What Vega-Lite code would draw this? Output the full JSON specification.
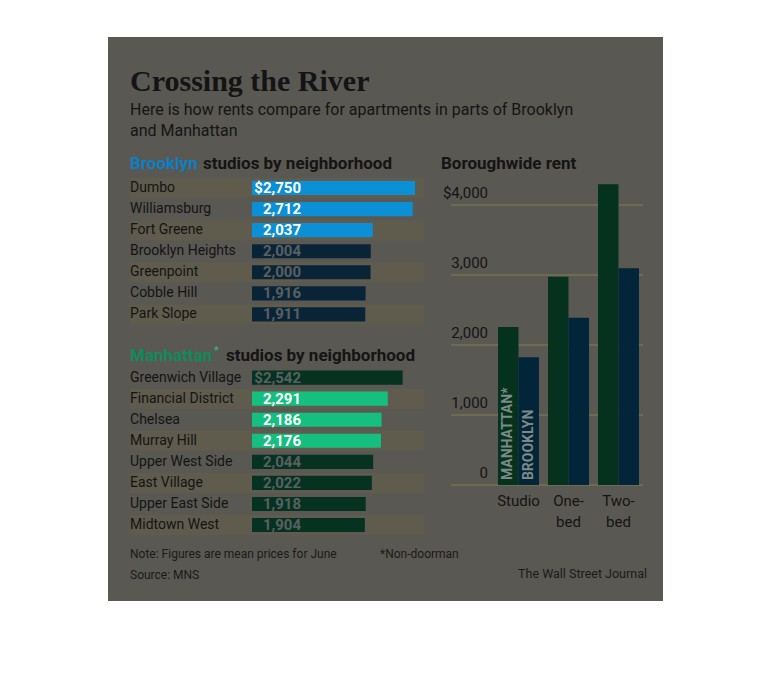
{
"$schema":"https://vega.github.io/schema/vega-lite/v6.json",
"width":555,"height":564,
"autosize":{"type":"none"},
"padding":{"left":108,"top":37,"right":107,"bottom":95},
"background":"#ffffff",
"config":{"view":{"fill":"#5a5853","stroke":null},"text":{"font":"Roboto","color":"#141414"}},
"resolve":{"scale":{"x":"independent","y":"independent","xOffset":"independent","color":"independent"}},
"datasets":{
 "studios":[
  {"borough":"Brooklyn","name":"Dumbo","rent":2750,"label":"$2,750"},
  {"borough":"Brooklyn","name":"Williamsburg","rent":2712,"label":"2,712"},
  {"borough":"Brooklyn","name":"Fort Greene","rent":2037,"label":"2,037"},
  {"borough":"Brooklyn","name":"Brooklyn Heights","rent":2004,"label":"2,004"},
  {"borough":"Brooklyn","name":"Greenpoint","rent":2000,"label":"2,000"},
  {"borough":"Brooklyn","name":"Cobble Hill","rent":1916,"label":"1,916"},
  {"borough":"Brooklyn","name":"Park Slope","rent":1911,"label":"1,911"},
  {"borough":"Manhattan","name":"Greenwich Village","rent":2542,"label":"$2,542"},
  {"borough":"Manhattan","name":"Financial District","rent":2291,"label":"2,291"},
  {"borough":"Manhattan","name":"Chelsea","rent":2186,"label":"2,186"},
  {"borough":"Manhattan","name":"Murray Hill","rent":2176,"label":"2,176"},
  {"borough":"Manhattan","name":"Upper West Side","rent":2044,"label":"2,044"},
  {"borough":"Manhattan","name":"East Village","rent":2022,"label":"2,022"},
  {"borough":"Manhattan","name":"Upper East Side","rent":1918,"label":"1,918"},
  {"borough":"Manhattan","name":"Midtown West","rent":1904,"label":"1,904"}
 ],
 "boroughwide":[
  {"type":"Studio","borough":"Manhattan","rent":2257},
  {"type":"Studio","borough":"Brooklyn","rent":1824},
  {"type":"One-bed","borough":"Manhattan","rent":2976},
  {"type":"One-bed","borough":"Brooklyn","rent":2390},
  {"type":"Two-bed","borough":"Manhattan","rent":4296},
  {"type":"Two-bed","borough":"Brooklyn","rent":3096}
 ],
 "ticks":[
  {"value":0,"label":"0"},{"value":1000,"label":"1,000"},{"value":2000,"label":"2,000"},{"value":3000,"label":"3,000"},{"value":4000,"label":"$4,000"}
 ]
},
"layer":[
 {
  "data":{"name":"studios"},
  "transform":[{"filter":{"field":"name","oneOf":["Dumbo","Fort Greene","Greenpoint","Park Slope","Financial District","Murray Hill","East Village","Midtown West"]}}],
  "mark":{"type":"bar","height":{"band":0.95},"color":"#5f5c4d"},
  "encoding":{
   "x":{"datum":-2058,"type":"quantitative","axis":null,"scale":{"type":"linear","domain":[0,2750],"range":[144,307],"zero":false,"nice":false}},
   "x2":{"datum":2902},
   "y":{"field":"name","type":"nominal","axis":null,"scale":{"type":"band","domain":["title","sub1","sub2","blank","hdrB","Dumbo","Williamsburg","Fort Greene","Brooklyn Heights","Greenpoint","Cobble Hill","Park Slope","gap","hdrM","Greenwich Village","Financial District","Chelsea","Murray Hill","Upper West Side","East Village","Upper East Side","Midtown West","note","source"],"range":[35.23,540.67],"paddingInner":0,"paddingOuter":0}}
  }
 },
 {
  "data":{"name":"studios"},
  "mark":{"type":"bar","height":{"band":0.67}},
  "encoding":{
   "x":{"field":"rent","type":"quantitative","axis":null,"scale":{"type":"linear","domain":[0,2750],"range":[144,307],"zero":false,"nice":false}},
   "y":{"field":"name","type":"nominal","axis":null,"scale":{"type":"band","domain":["title","sub1","sub2","blank","hdrB","Dumbo","Williamsburg","Fort Greene","Brooklyn Heights","Greenpoint","Cobble Hill","Park Slope","gap","hdrM","Greenwich Village","Financial District","Chelsea","Murray Hill","Upper West Side","East Village","Upper East Side","Midtown West","note","source"],"range":[35.23,540.67],"paddingInner":0,"paddingOuter":0}},
   "color":{"condition":[
     {"test":"indexof(['Dumbo','Williamsburg','Fort Greene'], datum.name) >= 0","value":"#0b8fd5"},
     {"test":"indexof(['Financial District','Chelsea','Murray Hill'], datum.name) >= 0","value":"#14bf80"},
     {"test":"datum.borough === 'Brooklyn'","value":"#0a2437"}
    ],"value":"#053221"}
  }
 },
 {
  "data":{"name":"studios"},
  "mark":{"type":"text","align":"left","baseline":"middle","fontSize":14},
  "encoding":{
   "x":{"datum":-2058,"type":"quantitative","axis":null,"scale":{"type":"linear","domain":[0,2750],"range":[144,307],"zero":false,"nice":false}},
   "y":{"field":"name","type":"nominal","axis":null,"scale":{"type":"band","domain":["title","sub1","sub2","blank","hdrB","Dumbo","Williamsburg","Fort Greene","Brooklyn Heights","Greenpoint","Cobble Hill","Park Slope","gap","hdrM","Greenwich Village","Financial District","Chelsea","Murray Hill","Upper West Side","East Village","Upper East Side","Midtown West","note","source"],"range":[35.23,540.67],"paddingInner":0,"paddingOuter":0}},
   "text":{"field":"name"}
  }
 },
 {
  "data":{"name":"studios"},
  "mark":{"type":"text","align":"right","baseline":"middle","fontSize":15,"fontWeight":"bold"},
  "encoding":{
   "x":{"datum":827,"type":"quantitative","axis":null,"scale":{"type":"linear","domain":[0,2750],"range":[144,307],"zero":false,"nice":false}},
   "y":{"field":"name","type":"nominal","axis":null,"scale":{"type":"band","domain":["title","sub1","sub2","blank","hdrB","Dumbo","Williamsburg","Fort Greene","Brooklyn Heights","Greenpoint","Cobble Hill","Park Slope","gap","hdrM","Greenwich Village","Financial District","Chelsea","Murray Hill","Upper West Side","East Village","Upper East Side","Midtown West","note","source"],"range":[35.23,540.67],"paddingInner":0,"paddingOuter":0}},
   "text":{"field":"label"},
   "color":{"condition":{"test":"indexof(['Dumbo','Williamsburg','Fort Greene','Financial District','Chelsea','Murray Hill'], datum.name) >= 0","value":"#ffffff"},"value":"#5a6062"}
  }
 },
 {
  "data":{"values":[{"row":"title","text":"Crossing the River"}]},
  "mark":{"type":"text","align":"left","baseline":"middle","font":"Liberation Serif","fontSize":30,"fontWeight":"bold","dy":-1},
  "encoding":{
   "x":{"datum":-2058,"type":"quantitative","axis":null,"scale":{"type":"linear","domain":[0,2750],"range":[144,307],"zero":false,"nice":false}},
   "y":{"field":"row","type":"nominal","axis":null,"scale":{"type":"band","domain":["title","sub1","sub2","blank","hdrB","Dumbo","Williamsburg","Fort Greene","Brooklyn Heights","Greenpoint","Cobble Hill","Park Slope","gap","hdrM","Greenwich Village","Financial District","Chelsea","Murray Hill","Upper West Side","East Village","Upper East Side","Midtown West","note","source"],"range":[35.23,540.67],"paddingInner":0,"paddingOuter":0}},
   "text":{"field":"text"}
  }
 },
 {
  "data":{"values":[{"row":"sub1","text":"Here is how rents compare for apartments in parts of Brooklyn"},{"row":"sub2","text":"and Manhattan"}]},
  "mark":{"type":"text","align":"left","baseline":"middle","fontSize":16,"dy":6.5},
  "encoding":{
   "x":{"datum":-2058,"type":"quantitative","axis":null,"scale":{"type":"linear","domain":[0,2750],"range":[144,307],"zero":false,"nice":false}},
   "y":{"field":"row","type":"nominal","axis":null,"scale":{"type":"band","domain":["title","sub1","sub2","blank","hdrB","Dumbo","Williamsburg","Fort Greene","Brooklyn Heights","Greenpoint","Cobble Hill","Park Slope","gap","hdrM","Greenwich Village","Financial District","Chelsea","Murray Hill","Upper West Side","East Village","Upper East Side","Midtown West","note","source"],"range":[35.23,540.67],"paddingInner":0,"paddingOuter":0}},
   "text":{"field":"text"}
  }
 },
 {
  "data":{"values":[{"row":"hdrB","text":"Brooklyn"}]},
  "mark":{"type":"text","align":"left","baseline":"middle","fontSize":17,"fontWeight":"bold","color":"#0b7fc4","dy":-3},
  "encoding":{
   "x":{"datum":-2058,"type":"quantitative","axis":null,"scale":{"type":"linear","domain":[0,2750],"range":[144,307],"zero":false,"nice":false}},
   "y":{"field":"row","type":"nominal","axis":null,"scale":{"type":"band","domain":["title","sub1","sub2","blank","hdrB","Dumbo","Williamsburg","Fort Greene","Brooklyn Heights","Greenpoint","Cobble Hill","Park Slope","gap","hdrM","Greenwich Village","Financial District","Chelsea","Murray Hill","Upper West Side","East Village","Upper East Side","Midtown West","note","source"],"range":[35.23,540.67],"paddingInner":0,"paddingOuter":0}},
   "text":{"field":"text"}
  }
 },
 {
  "data":{"values":[{"row":"hdrB","text":"studios by neighborhood"}]},
  "mark":{"type":"text","align":"left","baseline":"middle","fontSize":17,"fontWeight":"bold","dy":-3},
  "encoding":{
   "x":{"datum":-827,"type":"quantitative","axis":null,"scale":{"type":"linear","domain":[0,2750],"range":[144,307],"zero":false,"nice":false}},
   "y":{"field":"row","type":"nominal","axis":null,"scale":{"type":"band","domain":["title","sub1","sub2","blank","hdrB","Dumbo","Williamsburg","Fort Greene","Brooklyn Heights","Greenpoint","Cobble Hill","Park Slope","gap","hdrM","Greenwich Village","Financial District","Chelsea","Murray Hill","Upper West Side","East Village","Upper East Side","Midtown West","note","source"],"range":[35.23,540.67],"paddingInner":0,"paddingOuter":0}},
   "text":{"field":"text"}
  }
 },
 {
  "data":{"values":[{"row":"hdrB","text":"Boroughwide rent"}]},
  "mark":{"type":"text","align":"left","baseline":"middle","fontSize":17,"fontWeight":"bold","dy":-3},
  "encoding":{
   "x":{"datum":3189,"type":"quantitative","axis":null,"scale":{"type":"linear","domain":[0,2750],"range":[144,307],"zero":false,"nice":false}},
   "y":{"field":"row","type":"nominal","axis":null,"scale":{"type":"band","domain":["title","sub1","sub2","blank","hdrB","Dumbo","Williamsburg","Fort Greene","Brooklyn Heights","Greenpoint","Cobble Hill","Park Slope","gap","hdrM","Greenwich Village","Financial District","Chelsea","Murray Hill","Upper West Side","East Village","Upper East Side","Midtown West","note","source"],"range":[35.23,540.67],"paddingInner":0,"paddingOuter":0}},
   "text":{"field":"text"}
  }
 },
 {
  "data":{"values":[{"row":"hdrM","text":"Manhattan"}]},
  "mark":{"type":"text","align":"left","baseline":"middle","fontSize":17,"fontWeight":"bold","color":"#0e8c57","dy":-1},
  "encoding":{
   "x":{"datum":-2058,"type":"quantitative","axis":null,"scale":{"type":"linear","domain":[0,2750],"range":[144,307],"zero":false,"nice":false}},
   "y":{"field":"row","type":"nominal","axis":null,"scale":{"type":"band","domain":["title","sub1","sub2","blank","hdrB","Dumbo","Williamsburg","Fort Greene","Brooklyn Heights","Greenpoint","Cobble Hill","Park Slope","gap","hdrM","Greenwich Village","Financial District","Chelsea","Murray Hill","Upper West Side","East Village","Upper East Side","Midtown West","note","source"],"range":[35.23,540.67],"paddingInner":0,"paddingOuter":0}},
   "text":{"field":"text"}
  }
 },
 {
  "data":{"values":[{"row":"hdrM","text":"*"}]},
  "mark":{"type":"text","align":"left","baseline":"middle","fontSize":11,"color":"#2fbf85","dy":-6},
  "encoding":{
   "x":{"datum":-641,"type":"quantitative","axis":null,"scale":{"type":"linear","domain":[0,2750],"range":[144,307],"zero":false,"nice":false}},
   "y":{"field":"row","type":"nominal","axis":null,"scale":{"type":"band","domain":["title","sub1","sub2","blank","hdrB","Dumbo","Williamsburg","Fort Greene","Brooklyn Heights","Greenpoint","Cobble Hill","Park Slope","gap","hdrM","Greenwich Village","Financial District","Chelsea","Murray Hill","Upper West Side","East Village","Upper East Side","Midtown West","note","source"],"range":[35.23,540.67],"paddingInner":0,"paddingOuter":0}},
   "text":{"field":"text"}
  }
 },
 {
  "data":{"values":[{"row":"hdrM","text":"studios by neighborhood"}]},
  "mark":{"type":"text","align":"left","baseline":"middle","fontSize":17,"fontWeight":"bold","dy":-1},
  "encoding":{
   "x":{"datum":-439,"type":"quantitative","axis":null,"scale":{"type":"linear","domain":[0,2750],"range":[144,307],"zero":false,"nice":false}},
   "y":{"field":"row","type":"nominal","axis":null,"scale":{"type":"band","domain":["title","sub1","sub2","blank","hdrB","Dumbo","Williamsburg","Fort Greene","Brooklyn Heights","Greenpoint","Cobble Hill","Park Slope","gap","hdrM","Greenwich Village","Financial District","Chelsea","Murray Hill","Upper West Side","East Village","Upper East Side","Midtown West","note","source"],"range":[35.23,540.67],"paddingInner":0,"paddingOuter":0}},
   "text":{"field":"text"}
  }
 },
 {
  "data":{"values":[{"row":"note","text":"Note: Figures are mean prices for June"},{"row":"source","text":"Source: MNS"}]},
  "mark":{"type":"text","align":"left","baseline":"middle","fontSize":12,"color":"#1a1a1a","dy":7.5},
  "encoding":{
   "x":{"datum":-2058,"type":"quantitative","axis":null,"scale":{"type":"linear","domain":[0,2750],"range":[144,307],"zero":false,"nice":false}},
   "y":{"field":"row","type":"nominal","axis":null,"scale":{"type":"band","domain":["title","sub1","sub2","blank","hdrB","Dumbo","Williamsburg","Fort Greene","Brooklyn Heights","Greenpoint","Cobble Hill","Park Slope","gap","hdrM","Greenwich Village","Financial District","Chelsea","Murray Hill","Upper West Side","East Village","Upper East Side","Midtown West","note","source"],"range":[35.23,540.67],"paddingInner":0,"paddingOuter":0}},
   "text":{"field":"text"}
  }
 },
 {
  "data":{"values":[{"row":"note","text":"*Non-doorman"}]},
  "mark":{"type":"text","align":"left","baseline":"middle","fontSize":12,"color":"#1a1a1a","dy":7.5},
  "encoding":{
   "x":{"datum":2160,"type":"quantitative","axis":null,"scale":{"type":"linear","domain":[0,2750],"range":[144,307],"zero":false,"nice":false}},
   "y":{"field":"row","type":"nominal","axis":null,"scale":{"type":"band","domain":["title","sub1","sub2","blank","hdrB","Dumbo","Williamsburg","Fort Greene","Brooklyn Heights","Greenpoint","Cobble Hill","Park Slope","gap","hdrM","Greenwich Village","Financial District","Chelsea","Murray Hill","Upper West Side","East Village","Upper East Side","Midtown West","note","source"],"range":[35.23,540.67],"paddingInner":0,"paddingOuter":0}},
   "text":{"field":"text"}
  }
 },
 {
  "data":{"values":[{"row":"source","text":"The Wall Street Journal"}]},
  "mark":{"type":"text","align":"right","baseline":"middle","fontSize":12.5,"color":"#1a1a1a","dy":7},
  "encoding":{
   "x":{"datum":6664,"type":"quantitative","axis":null,"scale":{"type":"linear","domain":[0,2750],"range":[144,307],"zero":false,"nice":false}},
   "y":{"field":"row","type":"nominal","axis":null,"scale":{"type":"band","domain":["title","sub1","sub2","blank","hdrB","Dumbo","Williamsburg","Fort Greene","Brooklyn Heights","Greenpoint","Cobble Hill","Park Slope","gap","hdrM","Greenwich Village","Financial District","Chelsea","Murray Hill","Upper West Side","East Village","Upper East Side","Midtown West","note","source"],"range":[35.23,540.67],"paddingInner":0,"paddingOuter":0}},
   "text":{"field":"text"}
  }
 },
 {
  "data":{"name":"ticks"},
  "mark":{"type":"rule","color":"#6f6b4f","strokeWidth":2},
  "encoding":{
   "x":{"datum":3357,"type":"quantitative","axis":null,"scale":{"type":"linear","domain":[0,2750],"range":[144,307],"zero":false,"nice":false}},
   "x2":{"datum":6597},
   "y":{"field":"value","type":"quantitative","axis":null,"scale":{"type":"linear","domain":[0,4000],"range":[448,168],"zero":false,"nice":false}}
  }
 },
 {
  "data":{"name":"ticks"},
  "mark":{"type":"text","align":"right","baseline":"middle","fontSize":15,"dy":-12},
  "encoding":{
   "x":{"datum":3982,"type":"quantitative","axis":null,"scale":{"type":"linear","domain":[0,2750],"range":[144,307],"zero":false,"nice":false}},
   "y":{"field":"value","type":"quantitative","axis":null,"scale":{"type":"linear","domain":[0,4000],"range":[448,168],"zero":false,"nice":false}},
   "text":{"field":"label"}
  }
 },
 {
  "data":{"name":"boroughwide"},
  "mark":{"type":"bar"},
  "encoding":{
   "x":{"field":"type","type":"nominal","axis":null,"scale":{"type":"band","domain":["Studio","One-bed","Two-bed"],"range":[385.5,535.5],"paddingInner":0.18,"paddingOuter":0.09}},
   "xOffset":{"field":"borough","type":"nominal","scale":{"domain":["Manhattan","Brooklyn"],"paddingInner":0,"paddingOuter":0}},
   "y":{"field":"rent","type":"quantitative","axis":null,"scale":{"type":"linear","domain":[0,4000],"range":[448,168],"zero":false,"nice":false}},
   "color":{"field":"borough","type":"nominal","legend":null,"scale":{"domain":["Manhattan","Brooklyn"],"range":["#04321f","#022539"]}}
  }
 },
 {
  "data":{"values":[{"type":"Studio","borough":"Manhattan","label":"MANHATTAN*"},{"type":"Studio","borough":"Brooklyn","label":"BROOKLYN"}]},
  "mark":{"type":"text","angle":270,"align":"left","baseline":"middle","fontSize":14,"fontWeight":"bold","color":"#7d8a85"},
  "encoding":{
   "x":{"field":"type","type":"nominal","axis":null,"scale":{"type":"band","domain":["Studio","One-bed","Two-bed"],"range":[385.5,535.5],"paddingInner":0.18,"paddingOuter":0.09}},
   "xOffset":{"field":"borough","type":"nominal","scale":{"type":"point","domain":["Manhattan","Brooklyn"],"padding":0.5}},
   "y":{"datum":70,"type":"quantitative","axis":null,"scale":{"type":"linear","domain":[0,4000],"range":[448,168],"zero":false,"nice":false}},
   "text":{"field":"label"}
  }
 },
 {
  "data":{"values":[{"type":"Studio","label":"Studio"},{"type":"One-bed","label":"One-\nbed"},{"type":"Two-bed","label":"Two-\nbed"}]},
  "mark":{"type":"text","align":"center","baseline":"top","fontSize":15,"lineBreak":"\n","lineHeight":21,"dy":9},
  "encoding":{
   "x":{"field":"type","type":"nominal","axis":null,"scale":{"type":"band","domain":["Studio","One-bed","Two-bed"],"range":[385.5,535.5],"paddingInner":0.18,"paddingOuter":0.09}},
   "y":{"datum":0,"type":"quantitative","axis":null,"scale":{"type":"linear","domain":[0,4000],"range":[448,168],"zero":false,"nice":false}},
   "text":{"field":"label"}
  }
 }
]
}
